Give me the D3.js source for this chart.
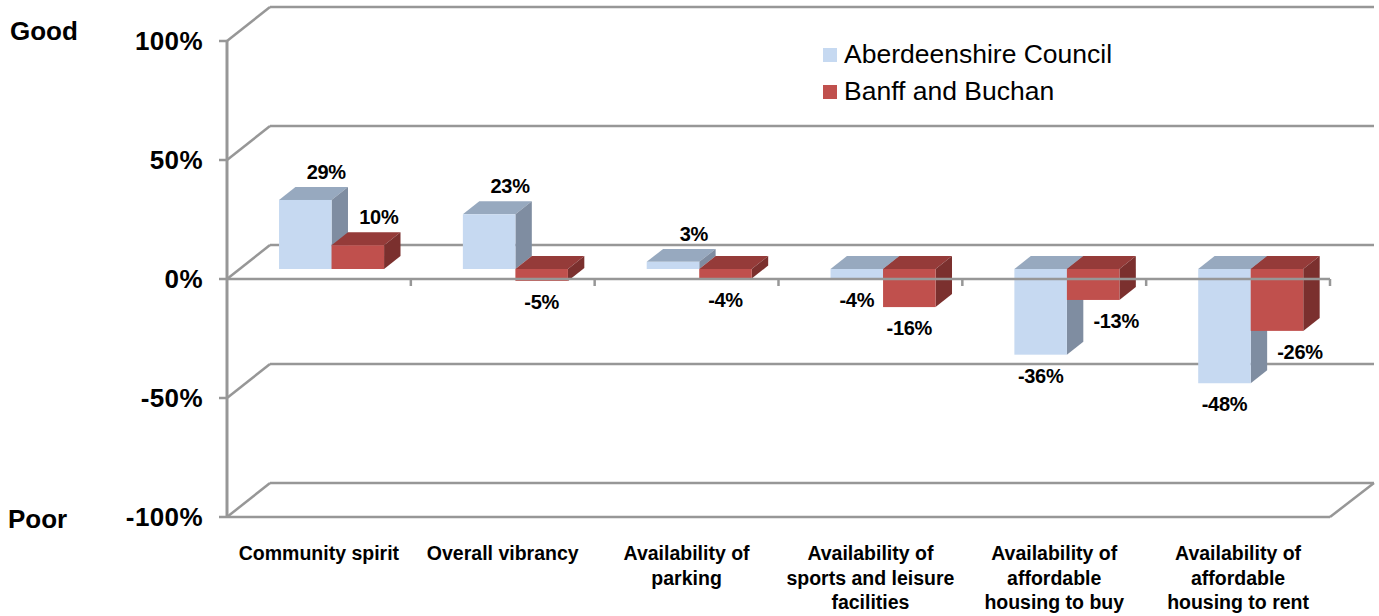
<!DOCTYPE html>
<html>
<head>
  <title>Community ratings</title>
  <script src="https://d3js.org/d3.v7.min.js"></script>
  <style>
    body { margin: 0; background: #fff; font-family: "Liberation Sans", Arial, sans-serif; }
  </style>
</head>
<body>
<div id="chart"></div>
<script>
  // data
  let categories = [
    ['Community spirit'],
    ['Overall vibrancy'],
    ['Availability of', 'parking'],
    ['Availability of', 'sports and leisure', 'facilities'],
    ['Availability of', 'affordable', 'housing to buy'],
    ['Availability of', 'affordable', 'housing to rent']
  ];
  let seriesNames = ['Aberdeenshire Council', 'Banff and Buchan'];
  let aberdeenshire = [29, 23, 3, -4, -36, -48];
  let banffBuchan = [10, -5, -4, -16, -13, -26];
  let yTicks = [100, 50, 0, -50, -100];

  let width = 1379, height = 616;
  let left = 227, right = 1330;
  let depthX = 43, depthY = -34;       // full depth of the plot box
  let barFront = 0.294, barBack = 0.676; // bars sit inside the box depth

  let svg = d3.select('#chart').append('svg')
    .attr('width', width).attr('height', height);

  let y = d3.scaleLinear().domain([-100, 100]).range([517, 41]);
  let x0 = d3.scaleBand().domain(d3.range(categories.length)).range([left, right]);
  let x1 = d3.scaleBand().domain([0, 1]).range([0, x0.bandwidth()]).paddingOuter(0.75);

  let gridColor = '#979797';

  // back wall gridlines + left side diagonals
  let grid = svg.append('g');
  yTicks.forEach(t => {
    grid.append('line')
      .attr('x1', left + depthX).attr('x2', 1374)
      .attr('y1', y(t) + depthY).attr('y2', y(t) + depthY)
      .attr('stroke', gridColor).attr('stroke-width', 2.5);
    grid.append('line')
      .attr('x1', left).attr('x2', left + depthX)
      .attr('y1', y(t)).attr('y2', y(t) + depthY)
      .attr('stroke', gridColor).attr('stroke-width', 2.5);
    grid.append('line')
      .attr('x1', left - 8).attr('x2', left)
      .attr('y1', y(t)).attr('y2', y(t))
      .attr('stroke', gridColor).attr('stroke-width', 2.5);
  });
  // floor front edge
  grid.append('line')
    .attr('x1', left).attr('x2', right)
    .attr('y1', y(-100)).attr('y2', y(-100))
    .attr('stroke', gridColor).attr('stroke-width', 2.5);
  grid.append('line')
    .attr('x1', right).attr('x2', right + depthX + 1)
    .attr('y1', y(-100)).attr('y2', y(-100) + depthY)
    .attr('stroke', gridColor).attr('stroke-width', 2.5);
  // vertical axis
  grid.append('line')
    .attr('x1', left).attr('x2', left)
    .attr('y1', y(100)).attr('y2', y(-100))
    .attr('stroke', gridColor).attr('stroke-width', 3);

  // bars
  let colors = [
    { front: '#C6D9F1', top: '#97A9BF', side: '#7F8DA1' },
    { front: '#C0504D', top: '#953B39', side: '#7B302E' }
  ];
  let fx = barFront * depthX, fy = barFront * depthY;
  let bx = (barBack - barFront) * depthX, by = (barBack - barFront) * depthY;

  let rows = categories.map((c, i) => [aberdeenshire[i], banffBuchan[i]]);
  let bars = svg.append('g');
  rows.forEach((vals, i) => {
    vals.forEach((v, s) => {
      let xl = x0(i) + x1(s) + fx;
      let w = x1.bandwidth();
      let yTop = Math.min(y(v), y(0)) + fy;
      let yBot = Math.max(y(v), y(0)) + fy;
      let c = colors[s];
      let g = bars.append('g');
      // top face
      g.append('path')
        .attr('d', `M${xl},${yTop}L${xl + bx},${yTop + by}L${xl + w + bx},${yTop + by}L${xl + w},${yTop}Z`)
        .attr('fill', c.top);
      // side face
      g.append('path')
        .attr('d', `M${xl + w},${yTop}L${xl + w + bx},${yTop + by}L${xl + w + bx},${yBot + by}L${xl + w},${yBot}Z`)
        .attr('fill', c.side);
      // front face
      g.append('rect')
        .attr('x', xl).attr('y', yTop)
        .attr('width', w).attr('height', yBot - yTop)
        .attr('fill', c.front);
    });
  });

  // front zero axis, drawn over the bars
  grid = svg.append('g');
  grid.append('line')
    .attr('x1', left).attr('x2', right)
    .attr('y1', y(0)).attr('y2', y(0))
    .attr('stroke', gridColor).attr('stroke-width', 2.5);
  categories.forEach((c, i) => {
    let xt = x0(i) + x0.bandwidth();
    grid.append('line')
      .attr('x1', xt).attr('x2', xt)
      .attr('y1', y(0)).attr('y2', y(0) + 7)
      .attr('stroke', gridColor).attr('stroke-width', 2.5);
  });

  // data labels
  let labels = svg.append('g')
    .style('font-size', '20px').style('font-weight', 'bold')
    .attr('text-anchor', 'middle').attr('fill', '#000');
  rows.forEach((vals, i) => {
    vals.forEach((v, s) => {
      let cx = x0(i) + x1(s) + fx + x1.bandwidth() / 2;
      let ly, lx;
      if (v >= 0) {
        lx = cx + 21;
        ly = y(v) + fy - 21;
      } else {
        lx = cx + (s === 1 && vals[0] < v ? 23 : 0);
        ly = y(v) + fy + 28;
      }
      labels.append('text')
        .attr('x', lx).attr('y', ly)
        .style('letter-spacing', '-0.3px')
        .text(v + '%');
    });
  });

  // y tick labels
  svg.append('g').selectAll('text')
    .data(yTicks).enter().append('text')
    .attr('x', 203).attr('y', d => y(d) + 9)
    .attr('text-anchor', 'end')
    .style('font-size', '26px').style('font-weight', 'bold')
    .style('letter-spacing', '0.4px')
    .text(d => d + '%');

  svg.append('text').attr('x', 10).attr('y', 40)
    .style('font-size', '26px').style('font-weight', 'bold').text('Good');
  svg.append('text').attr('x', 8).attr('y', 528)
    .style('font-size', '26px').style('font-weight', 'bold').text('Poor');

  // category labels
  let cat = svg.append('g')
    .attr('text-anchor', 'middle')
    .style('font-size', '19.5px').style('font-weight', 'bold');
  categories.forEach((lines, i) => {
    let t = cat.append('text')
      .attr('x', x0(i) + x0.bandwidth() / 2).attr('y', 560);
    lines.forEach((l, k) => {
      t.append('tspan')
        .attr('x', x0(i) + x0.bandwidth() / 2)
        .attr('dy', k === 0 ? 0 : 24.5)
        .text(l);
    });
  });

  // legend
  let legend = svg.append('g');
  seriesNames.forEach((n, s) => {
    legend.append('rect')
      .attr('x', 823).attr('y', 48 + s * 37)
      .attr('width', 14).attr('height', 14)
      .attr('fill', colors[s].front);
    legend.append('text')
      .attr('x', 844).attr('y', 63 + s * 37)
      .style('font-size', '26.5px')
      .text(n);
  });
</script>
</body>
</html>
